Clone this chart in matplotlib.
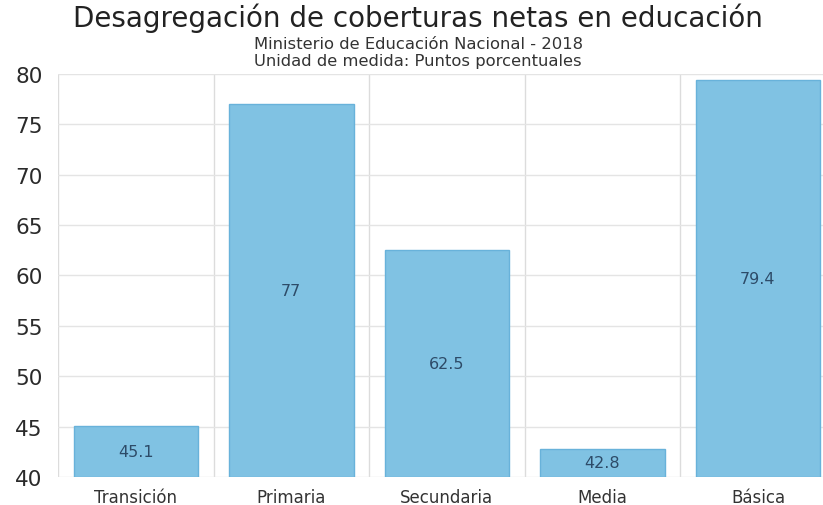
import matplotlib
matplotlib.use("Agg")
import matplotlib.pyplot as plt

categories = ["Transición", "Primaria", "Secundaria", "Media", "Básica"]
values = [45.1, 77, 62.5, 42.8, 79.4]
value_labels = ["45.1", "77", "62.5", "42.8", "79.4"]
y_ticks = [40, 45, 50, 55, 60, 65, 70, 75, 80]

plt.rcParams['font.family'] = ['DejaVu Sans']

fig = plt.figure(figsize=(8.23, 5.06), dpi=100, facecolor='#ffffff')
ax = fig.add_axes([0.0705, 0.0553, 0.945, 0.7967])

x = list(range(len(categories)))
ax.bar(x, [v - 40 for v in values], bottom=40, width=0.8,
       color='#80c2e3', edgecolor='#68b2da', linewidth=1, zorder=3)
for xi, v, lab in zip(x, values, value_labels):
    ax.text(xi, (40 + v) / 2, lab, ha='center', va='center',
            fontsize=11.5, color='#2d4b68', zorder=4)

ax.set_xlim(-0.5, len(categories) - 0.5)
ax.set_ylim(40, 80)
ax.set_yticks(y_ticks)
ax.set_yticklabels([str(t) for t in y_ticks], fontsize=15.5, color='#2a2a2a')
ax.set_xticks(x)
ax.set_xticklabels(categories, fontsize=12, color='#333333')
ax.set_xticks([i - 0.5 for i in range(len(categories) + 1)], minor=True)
ax.tick_params(axis='both', length=0, which='both')
ax.tick_params(axis='x', pad=8)
ax.tick_params(axis='y', pad=11)

ax.grid(axis='y', color='#e4e4e4', linewidth=1, zorder=0)
ax.grid(axis='x', which='minor', color='#dcdcdc', linewidth=1, zorder=0)
for s in ax.spines.values():
    s.set_visible(False)

fig.text(0.508, 0.964, "Desagregación de coberturas netas en educación",
         ha='center', va='center', fontsize=20, color='#222222')
fig.text(0.508, 0.913, "Ministerio de Educación Nacional - 2018",
         ha='center', va='center', fontsize=11.8, color='#333333')
fig.text(0.508, 0.878, "Unidad de medida: Puntos porcentuales",
         ha='center', va='center', fontsize=11.8, color='#333333')

fig.savefig("out.png", dpi=100)
